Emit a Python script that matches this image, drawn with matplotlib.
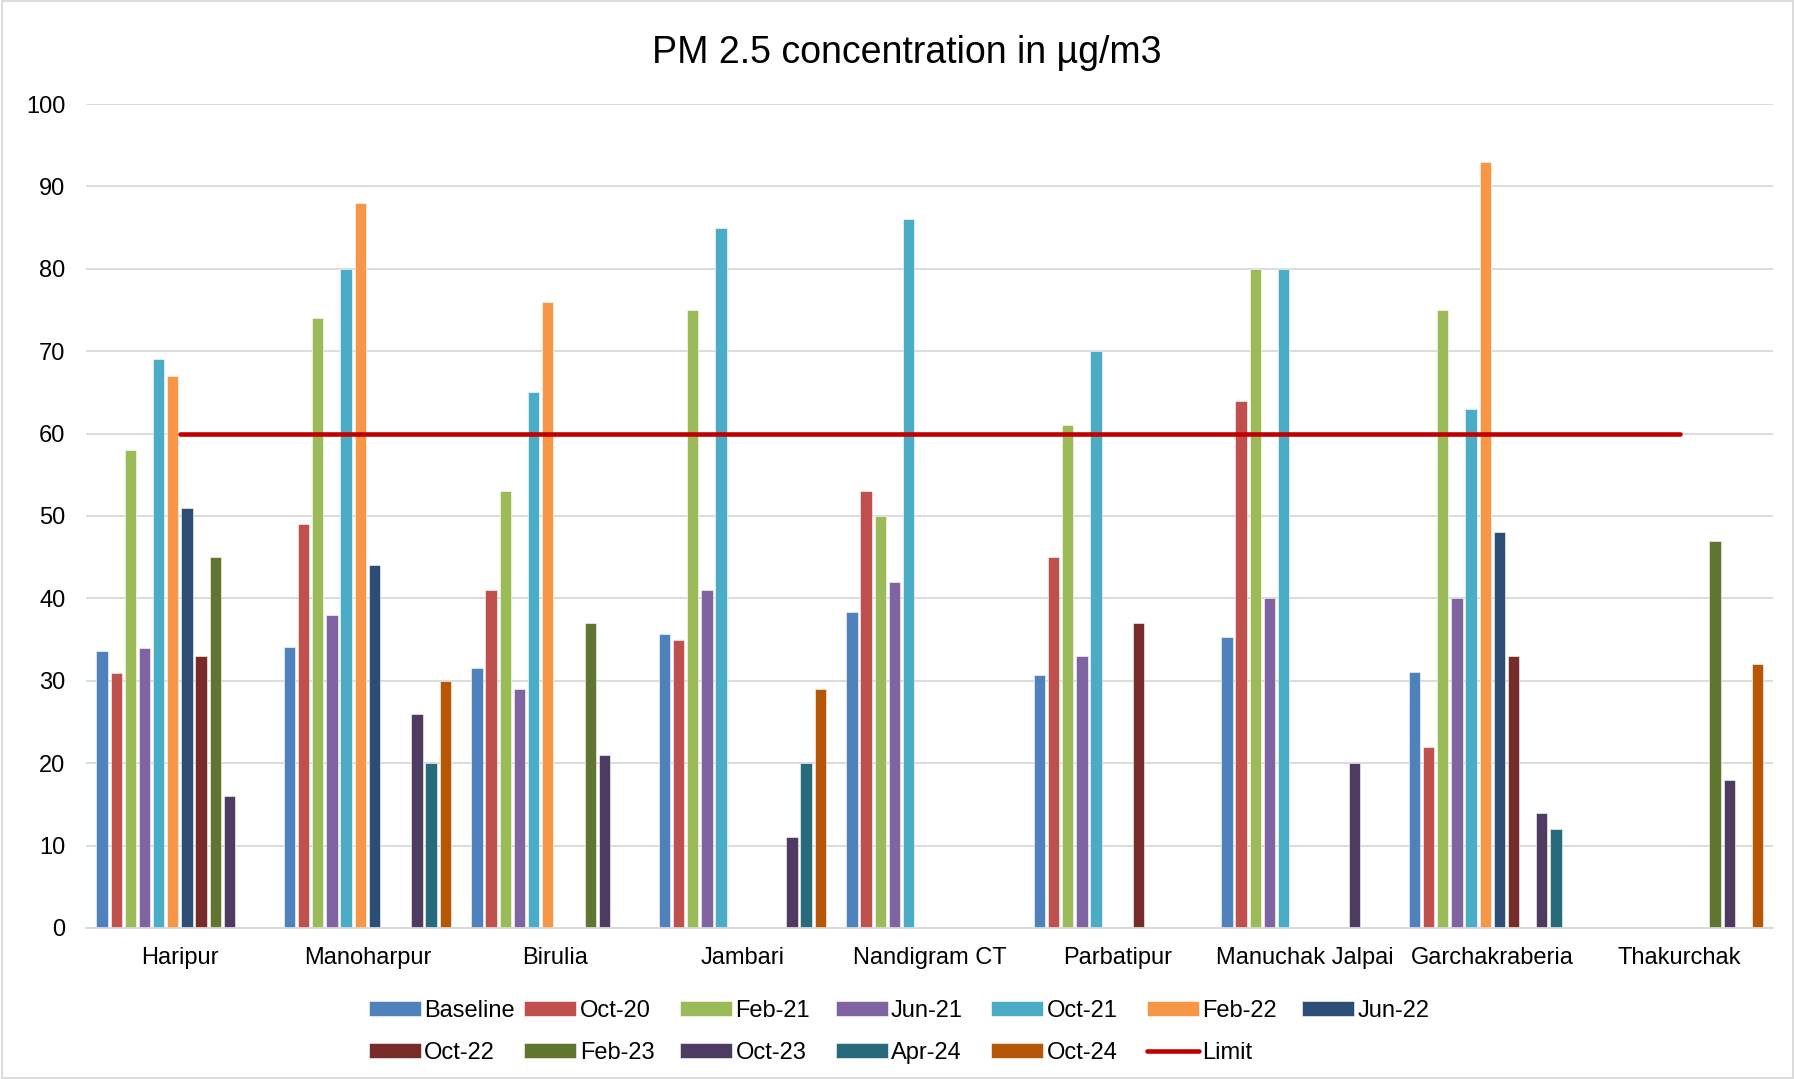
import numpy as np
import matplotlib as mpl
mpl.use("Agg")
import matplotlib.pyplot as plt
from matplotlib.patches import Rectangle

plt.rcParams["font.family"] = ["Liberation Sans", "DejaVu Sans"]

sites = ["Haripur", "Manoharpur", "Birulia", "Jambari", "Nandigram CT",
         "Parbatipur", "Manuchak Jalpai", "Garchakraberia", "Thakurchak"]

series = ["Baseline", "Oct-20", "Feb-21", "Jun-21", "Oct-21", "Feb-22",
          "Jun-22", "Oct-22", "Feb-23", "Oct-23", "Apr-24", "Oct-24"]

colors = ["#4F81BD", "#C0504D", "#9BBB59", "#8064A2", "#4BACC6", "#F79646",
          "#2C4D75", "#772C2A", "#5F7530", "#4D3B62", "#276A7C", "#B65708"]

nan = np.nan
# one list per campaign, entries follow `sites`
baseline = [33.6, 34.1, 31.5, 35.7, 38.3, 30.7, 35.3, 31.1, nan]
oct20 = [31, 49, 41, 35, 53, 45, 64, 22, nan]
feb21 = [58, 74, 53, 75, 50, 61, 80, 75, nan]
jun21 = [34, 38, 29, 41, 42, 33, 40, 40, nan]
oct21 = [69, 80, 65, 85, 86, 70, 80, 63, nan]
feb22 = [67, 88, 76, nan, nan, nan, nan, 93, nan]
jun22 = [51, 44, nan, nan, nan, nan, nan, 48, nan]
oct22 = [33, nan, nan, nan, nan, 37, nan, 33, nan]
feb23 = [45, nan, 37, nan, nan, nan, nan, nan, 47]
oct23 = [16, 26, 21, 11, nan, nan, 20, 14, 18]
apr24 = [nan, 20, nan, 20, nan, nan, nan, 12, nan]
oct24 = [nan, 30, nan, 29, nan, nan, nan, nan, 32]
limit = [60] * len(sites)

values = [baseline, oct20, feb21, jun21, oct21, feb22,
          jun22, oct22, feb23, oct23, apr24, oct24]

fig = plt.figure(figsize=(17.95, 10.79), dpi=100)
ax = fig.add_axes([0.048, 0.14, 0.94, 0.7636])

x = np.arange(len(sites))
slot = 0.0755
for i, (name, vals, c) in enumerate(zip(series, values, colors)):
    ax.bar(x + (i - 5.5) * slot, vals, width=slot * 0.8, color=c,
           edgecolor="white", linewidth=0.4, label=name, zorder=2)

ax.plot(x, limit, color="#C00000", lw=3.3, solid_capstyle="round",
        label="Limit", zorder=3)

ax.set_xlim(-0.5, len(sites) - 0.5)
ax.set_ylim(0, 100)
ax.set_yticks(np.arange(0, 101, 10))
ax.set_xticks(x)
ax.set_xticklabels(sites, fontsize=17)
ax.tick_params(axis="y", length=0, pad=15, labelsize=17)
ax.tick_params(axis="x", length=0, pad=14)
ax.yaxis.grid(True, color="#D9D9D9", lw=1.3, zorder=0)
ax.set_axisbelow(True)
for s in ["top", "right", "left"]:
    ax.spines[s].set_visible(False)
ax.spines["bottom"].set_color("#D9D9D9")
ax.spines["bottom"].set_linewidth(1.3)

fig.text(0.505, 0.951, "PM 2.5 concentration in µg/m3", ha="center",
         va="center", fontsize=27)

# excel-style legend: 7 equal-width columns, filled row by row
handles, labels = ax.get_legend_handles_labels()
lab2h = dict(zip(labels, handles))
labels = series + ["Limit"]
handles = [lab2h[l] for l in labels]
ncol = 7
for j in range(ncol):
    idx = list(range(j, len(labels), ncol))
    fig.legend([handles[k] for k in idx], [labels[k] for k in idx],
               loc="upper left", bbox_to_anchor=(0.2054 + j * 0.0867, 0.0733),
               frameon=False, fontsize=17, handlelength=2.2,
               handleheight=0.6, handletextpad=0.15, labelspacing=0.85,
               borderpad=0, borderaxespad=0)

fig.patches.append(Rectangle((0.001, 0.001), 0.998, 0.998, transform=fig.transFigure,
                             fill=False, edgecolor="#D9D9D9", lw=1.3))

fig.savefig("out.png", dpi=100)
